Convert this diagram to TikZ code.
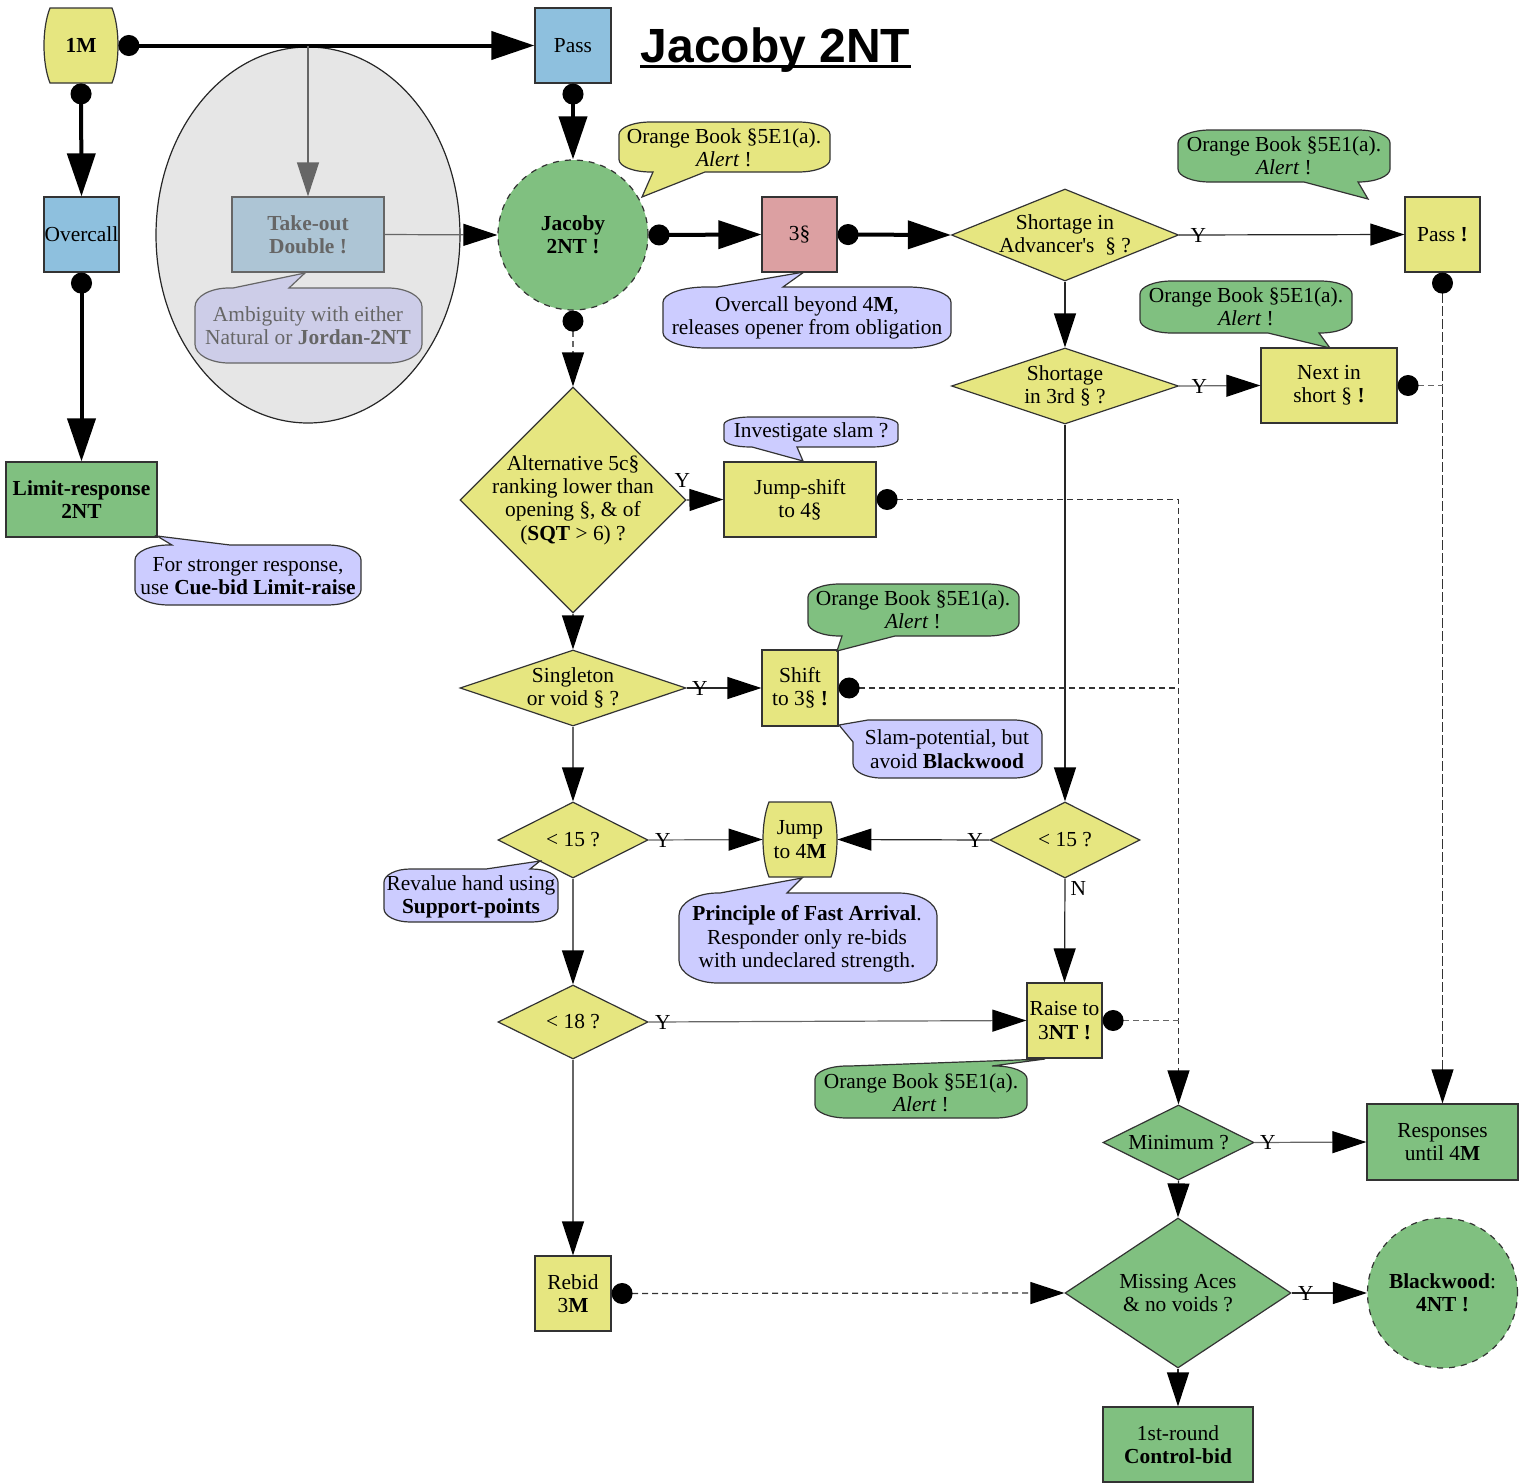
\documentclass[tikz,border=0pt]{standalone}
\usepackage{fontspec}
\setmainfont{Liberation Serif}
\newfontfamily\headfont{Liberation Sans}
\usetikzlibrary{arrows.meta,shapes.geometric}

\definecolor{cYel}{RGB}{230,230,128}
\definecolor{cGrn}{RGB}{128,192,128}
\definecolor{cBlu}{RGB}{142,192,222}
\definecolor{cPnk}{RGB}{220,160,162}
\definecolor{cLav}{RGB}{204,204,255}
\definecolor{cFog}{RGB}{230,230,230}
\definecolor{cTod}{RGB}{173,197,213}
\definecolor{cAmb}{RGB}{205,205,232}
\definecolor{cDim}{RGB}{102,102,102}

% rounded speech bubble, pointer on the top edge:
% {style}{x1}{y1}{x2}{y2}{base from x}{base to x}{tip x}{tip y}
\newcommand\callT[9]{%
  \pgfmathsetmacro\crx{0.15*(#4-#2)}%
  \pgfmathsetmacro\cry{0.25*(#5-#3)}%
  \pgfmathsetmacro\ckx{0.45*\crx}%
  \pgfmathsetmacro\cky{0.45*\cry}%
  \draw[#1] (#2+\crx,#3) -- (#6,#3) -- (#8,#9) -- (#7,#3) -- (#4-\crx,#3)
    .. controls (#4-\ckx,#3) and (#4,#3+\cky) .. (#4,#3+\cry)
    -- (#4,#5-\cry)
    .. controls (#4,#5-\cky) and (#4-\ckx,#5) .. (#4-\crx,#5)
    -- (#2+\crx,#5)
    .. controls (#2+\ckx,#5) and (#2,#5-\cky) .. (#2,#5-\cry)
    -- (#2,#3+\cry)
    .. controls (#2,#3+\cky) and (#2+\ckx,#3) .. (#2+\crx,#3) -- cycle;}
% same bubble, pointer on the bottom edge
\newcommand\callB[9]{%
  \pgfmathsetmacro\crx{0.15*(#4-#2)}%
  \pgfmathsetmacro\cry{0.25*(#5-#3)}%
  \pgfmathsetmacro\ckx{0.45*\crx}%
  \pgfmathsetmacro\cky{0.45*\cry}%
  \draw[#1] (#2+\crx,#3) -- (#4-\crx,#3)
    .. controls (#4-\ckx,#3) and (#4,#3+\cky) .. (#4,#3+\cry)
    -- (#4,#5-\cry)
    .. controls (#4,#5-\cky) and (#4-\ckx,#5) .. (#4-\crx,#5)
    -- (#7,#5) -- (#8,#9) -- (#6,#5) -- (#2+\crx,#5)
    .. controls (#2+\ckx,#5) and (#2,#5-\cky) .. (#2,#5-\cry)
    -- (#2,#3+\cry)
    .. controls (#2,#3+\cky) and (#2+\ckx,#3) .. (#2+\crx,#3) -- cycle;}
% box with bulging left and right sides: {x1}{y1}{x2}{y2}{fill}
\newcommand\barrel[5]{%
  \draw[fill=#5, draw=black!80, line width=0.6pt]
    (#1+6,#2) -- (#3-6,#2) .. controls (#3+2,#2+20) and (#3+2,#4-20) .. (#3-6,#4)
    -- (#1+6,#4) .. controls (#1-2,#4-20) and (#1-2,#2+20) .. (#1+6,#2) -- cycle;}

\tikzset{
  tipBig/.tip={Triangle[length=21.5pt,width=14pt]},
  tipSmall/.tip={Triangle[length=17pt,width=11pt]},
  tipSmallK/.tip={Triangle[length=17pt,width=11pt,color=black]},
  tipDot/.tip={Circle[length=10.5pt]},
  tipDotK/.tip={Circle[length=10.5pt,color=black]},
}

\begin{document}
\begin{tikzpicture}[x=0.5pt,y=-0.5pt,
  every node/.style={font=\fontsize{10.7pt}{11.7pt}\selectfont, align=center, inner sep=0pt},
  sz/.style 2 args={minimum width=#1*0.5pt, minimum height=#2*0.5pt},
  box/.style={rectangle, draw=black!80, line width=0.6pt},
  dia/.style={diamond, draw=black!80, line width=0.6pt},
  disc/.style={circle, draw=black!80, dashed, line width=0.6pt, minimum size=75pt},
  cb/.style={draw=black!80, line width=0.6pt},
  yl/.style={inner sep=0pt, text=black},
  heavy/.style={line width=2pt, black},
  thinl/.style={line width=0.6pt, black!85},
  greyl/.style={line width=0.6pt, black!60},
  dashl/.style={line width=0.6pt, black!80, dash pattern=on 3pt off 2pt},
]
\useasboundingbox (0,0) rectangle (1522,1483);

% grey cloud around the take-out double branch
\node[ellipse, draw=black!85, fill=cFog, line width=0.6pt, sz={304}{376}] (fog) at (308,235) {};

% ---------- nodes ----------
\barrel{44}{8}{118}{83}{cYel}
\node[sz={74}{75}] (m1) at (81,45.5) {\textbf{1M}};
\node[box, fill=cBlu, sz={76}{75}] (pass1) at (573,45.5) {Pass};
\node[anchor=base, font=\headfont\bfseries\fontsize{24pt}{28pt}\selectfont] (title) at (775.5,62) {Jacoby 2NT};
\draw[line width=1.5pt] ([yshift=-2.2pt]title.base west) -- ([yshift=-2.2pt]title.base east);

\node[box, fill=cBlu, sz={75}{75}] (ovc) at (81.5,234.5) {Overcall};
\node[box, fill=cGrn, sz={151}{75}] (lim) at (81.5,499.5) {\textbf{Limit-response}\\\textbf{2NT}};

\node[box, draw=cDim, fill=cTod, text=cDim, sz={152}{75}] (tod) at (308,234.5) {\textbf{Take-out}\\\textbf{Double !}};

\node[disc, fill=cGrn] (jac) at (573,235) {\textbf{Jacoby}\\\textbf{2NT !}};
\node[box, fill=cPnk, sz={75}{75}] (s3) at (799.5,234.5) {3§};

\node[dia, fill=cYel, sz={227}{92}] (shA) at (1065,235) {};
\node (shAT) at (1065,235) {Shortage in\\Advancer\textquotesingle s~~§ ?};
\node[box, fill=cYel, sz={75}{75}] (pass2) at (1442.5,234.5) {Pass \textbf{!}};

\node[dia, fill=cYel, sz={227}{76}] (sh3) at (1065,386) {};
\node (sh3T) at (1065,386) {Shortage\\in 3rd § ?};
\node[box, fill=cYel, sz={136}{75}] (nxt) at (1329,385.5) {Next in\\short § \textbf{!}};

\node[dia, fill=cYel, sz={226}{226}] (alt) at (573,500) {};
\node (altT) at (573,500) {Alternative 5c§\\ranking lower than\\opening §, \& of\\(\textbf{SQT} > 6) ?};
\node[box, fill=cYel, sz={152}{75}] (jsh) at (800,499.5) {Jump-shift\\to 4§};

\node[dia, fill=cYel, sz={226}{76}] (sng) at (573,688) {};
\node (sngT) at (573,688) {Singleton\\or void § ?};
\node[box, fill=cYel, sz={76}{76}] (sft) at (800,688) {Shift\\to 3§ \textbf{!}};

\node[dia, fill=cYel, sz={150}{76}] (l15a) at (573,840) {};
\node (l15aT) at (573,840) {< 15 ?};
\barrel{763}{802}{837}{877}{cYel}
\node[sz={74}{75}] (j4m) at (800,839.5) {Jump\\to 4\textbf{M}};
\node[dia, fill=cYel, sz={150}{76}] (l15b) at (1065,840) {};
\node (l15bT) at (1065,840) {< 15 ?};

\node[dia, fill=cYel, sz={150}{74}] (l18) at (573,1022) {};
\node (l18T) at (573,1022) {< 18 ?};
\node[box, fill=cYel, sz={75}{75}] (r3n) at (1064.5,1020.5) {Raise to\\3\textbf{NT !}};

\node[dia, fill=cGrn, sz={151}{75}] (mini) at (1178.5,1142.5) {};
\node (miniT) at (1178.5,1142.5) {Minimum ?};
\node[box, fill=cGrn, sz={151}{76}] (resp) at (1442.5,1142) {Responses\\until 4\textbf{M}};

\node[box, fill=cYel, sz={76}{75}] (rb3) at (573,1293.5) {Rebid\\3\textbf{M}};
\node[dia, fill=cGrn, sz={226}{150}] (miss) at (1178,1293) {};
\node (missT) at (1178,1293) {Missing Aces\\\& no voids ?};
\node[disc, fill=cGrn] (bw) at (1442.5,1293) {\textbf{Blackwood}:\\\textbf{4NT !}};
\node[box, fill=cGrn, sz={150}{75}] (ctl) at (1178,1444.5) {1st-round\\\textbf{Control-bid}};

% ---------- connectors ----------
\draw[heavy, tipDot-tipBig] (m1.east) -- (pass1.west);
\draw[heavy, tipDot-tipBig] (m1.south) -- (ovc.north);
\draw[heavy, tipDot-tipBig] (ovc.south) -- (lim.north);
\draw[line width=0.6pt, cDim, -tipSmall] (tod.north |- m1.east) -- (tod.north);
\draw[line width=0.6pt, cDim, -tipSmallK] (tod.east) -- (jac.west);
\draw[heavy, tipDot-tipBig] (pass1.south) -- (jac.north);
\draw[heavy, tipDot-tipBig] (jac.east) -- (s3.west);
\draw[heavy, tipDot-tipBig] (s3.east) -- (shA.west);
\draw[greyl, dash pattern=on 3pt off 2pt, tipDotK-tipSmallK] (jac.south) -- (alt.north);

\draw[thinl, -tipSmallK] (shA.east) -- node[yl, at start, anchor=west, xshift=5.5pt] {Y} (pass2.west);
\draw[thinl, -tipSmallK] (shA.south) -- (sh3.north);
\draw[greyl, -tipSmallK] (sh3.east) -- node[yl, at start, anchor=west, xshift=6pt] {Y} (nxt.west);
\draw[thinl, -tipSmallK] (sh3.south) -- (l15b.north);
\draw[dashl, dash pattern=on 5pt off 1.5pt, tipDotK-tipSmallK] (pass2.south) -- (resp.north);
\draw[dashl, black!60, tipDotK-] (nxt.east) -- (nxt.east -| pass2.south);

\draw[thinl, -tipSmallK] (alt.east) -- node[yl, at start, anchor=south east, xshift=2pt, yshift=6pt] {Y} (jsh.west);
\draw[greyl, -tipSmallK] (alt.south) -- (sng.north);
\draw[dashl, tipDotK-tipSmallK] (jsh.east) -- (jsh.east -| mini.north) -- (mini.north);
\draw[dashl, tipDotK-] (sft.east) -- (sft.east -| mini.north);
\draw[thinl, -tipSmallK] (sng.east) -- node[yl, at start, anchor=west, xshift=2.5pt] {Y} (sft.west);
\draw[greyl, -tipSmallK] (sng.south) -- (l15a.north);

\draw[greyl, -tipSmallK] (l15a.east) -- node[yl, at start, anchor=west, xshift=3pt] {Y} (j4m.west);
\draw[thinl, -tipSmallK] (l15b.west) -- node[yl, at start, anchor=east, xshift=-3pt] {Y} (j4m.east);
\draw[thinl, -tipSmallK] (l15b.south) -- node[yl, at start, anchor=north west, xshift=2.5pt, yshift=-1pt] {N} (r3n.north);
\draw[greyl, -tipSmallK] (l15a.south) -- (l18.north);
\draw[greyl, -tipSmallK] (l18.east) -- node[yl, at start, anchor=west, xshift=3pt] {Y} (r3n.west);
\draw[greyl, -tipSmallK] (l18.south) -- (rb3.north);
\draw[dashl, black!60, tipDotK-] (r3n.east) -- (r3n.east -| mini.north);

\draw[dashl, tipDotK-tipSmallK] (rb3.east) -- (miss.west);
\draw[greyl, -tipSmallK] (mini.east) -- node[yl, at start, anchor=west, xshift=2.5pt] {Y} (resp.west);
\draw[thinl, -tipSmallK] (mini.south) -- (miss.north);
\draw[thinl, -tipSmallK] (miss.east) -- node[yl, at start, anchor=west, xshift=3pt] {Y} (bw.west);
\draw[thinl, -tipSmallK] (miss.south) -- (ctl.north);

% ---------- speech bubbles ----------
\callT{cb, draw=cDim, fill=cAmb}{195}{288}{422}{363}{233}{289}{305}{273}
\node[text=cDim] (ambT) at (308,325.5) {Ambiguity with either\\Natural or \textbf{Jordan-2NT}};

\callB{cb, fill=cYel}{619}{122}{830}{172}{653}{705}{642}{197}
\node (obA) at (724,148) {Orange Book §5E1(a).\\\textit{Alert} !};

\callT{cb, fill=cLav}{663}{287}{951}{348}{717}{783}{804}{272}
\node (ovbT) at (807,318) {Overcall beyond 4\textbf{M},\\releases opener from obligation};

\callB{cb, fill=cGrn}{1178}{130}{1390}{182}{1304}{1358}{1368}{199}
\node (obB) at (1284,156) {Orange Book §5E1(a).\\\textit{Alert} !};

\callB{cb, fill=cGrn}{1140}{281}{1352}{333}{1268}{1319}{1330}{348}
\node (obC) at (1246,307) {Orange Book §5E1(a).\\\textit{Alert} !};

\callT{cb, fill=cLav}{135}{545}{361}{605}{172}{230}{157}{536}
\node (strT) at (248,576) {For stronger response,\\use \textbf{Cue-bid Limit-raise}};

\callB{cb, fill=cLav}{724}{417}{898}{447}{752}{797}{803}{461}
\node (invT) at (811,432) {Investigate slam ?};

\callB{cb, fill=cGrn}{808}{584}{1019}{636}{842}{895}{837}{651}
\node (obD) at (913,610) {Orange Book §5E1(a).\\\textit{Alert} !};

\draw[cb, fill=cLav] (868,720) -- (1013.65,720)
  .. controls (1029.24,720) and (1042,726.5) .. (1042,734.5) -- (1042,763.5)
  .. controls (1042,771.5) and (1029.24,778) .. (1013.65,778) -- (881.35,778)
  .. controls (865.76,778) and (853,771.5) .. (853,763.5) -- (853,742) -- (839,725) -- cycle;
\node (slmT) at (947,749) {Slam-potential, but\\avoid \textbf{Blackwood}};

\callT{cb, fill=cLav}{384}{869}{558}{922}{486}{530}{540}{861}
\node (revT) at (471,897) {Revalue hand using\\\textbf{Support-points}};

\callT{cb, fill=cLav}{679}{893}{937}{983}{720}{787}{802}{878}
\node (pfaT) at (807,939) {\textbf{Principle of Fast Arrival}.\\Responder only re-bids\\with undeclared strength.};

\callT{cb, fill=cGrn}{815}{1066}{1027}{1118}{850}{992}{1045}{1059}
\node (obE) at (921,1093) {Orange Book §5E1(a).\\\textit{Alert} !};

\end{tikzpicture}
\end{document}
